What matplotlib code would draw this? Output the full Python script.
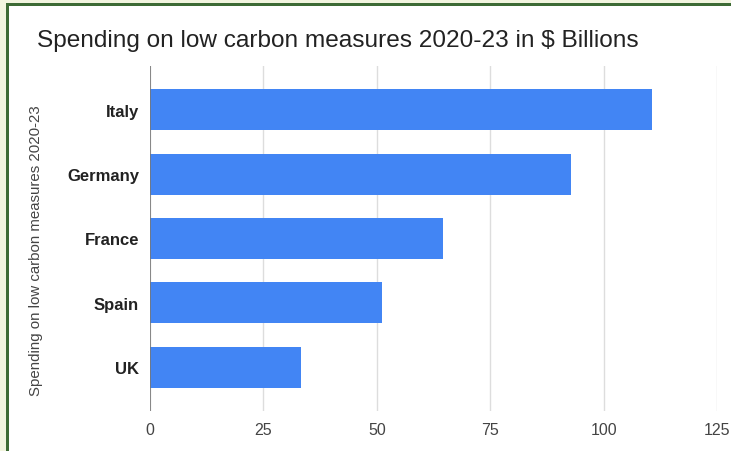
import matplotlib.pyplot as plt
from matplotlib.patches import Rectangle

countries = ["Italy", "Germany", "France", "Spain", "UK"]
spending = [110.7, 92.9, 64.5, 51.2, 33.2]
x_ticks = [0, 25, 50, 75, 100, 125]

plt.rcParams['font.family'] = ['Liberation Sans', 'DejaVu Sans']

fig = plt.figure(figsize=(7.31, 4.52), dpi=100)
fig.patch.set_facecolor("white")

# beige frame with green border on left and top
fig.patches.append(Rectangle((0, 0), 1, 1, transform=fig.transFigure,
                             facecolor="#f2f5df", edgecolor="none", zorder=-3))
fig.patches.append(Rectangle((6 / 731, 0), 1, 1 - 4 / 452, transform=fig.transFigure,
                             facecolor="#3d6b35", edgecolor="none", zorder=-2))
fig.patches.append(Rectangle((9 / 731, 0), 1, 1 - 7 / 452, transform=fig.transFigure,
                             facecolor="white", edgecolor="none", zorder=-1))

ax = fig.add_axes([150 / 731, 1 - 412 / 452, 567 / 731, 345 / 452])
ax.set_facecolor("none")

ypos = list(range(len(countries)))
ax.barh(ypos, spending, height=0.64, color="#4285f4", zorder=3)

ax.set_xlim(0, 125)
ax.set_ylim(4.68, -0.68)
ax.set_xticks(x_ticks)
ax.set_xticklabels([str(t) for t in x_ticks])
ax.set_yticks(ypos)
ax.set_yticklabels(countries, fontweight="bold", fontsize=12, color="#222222")

ax.grid(axis="x", color="#dddddd", linewidth=1, zorder=0)
ax.axvline(0, color="#777777", linewidth=1.2, zorder=4)
for s in ax.spines.values():
    s.set_visible(False)
ax.tick_params(axis="both", length=0)
ax.tick_params(axis="x", labelsize=11.5, labelcolor="#444444", pad=8)
ax.tick_params(axis="y", pad=8)

fig.text(37 / 731, 1 - 41 / 452, "Spending on low carbon measures 2020-23 in $ Billions",
         fontsize=17.6, color="#222222", va="center", ha="left")
fig.text(36 / 731, 1 - 251 / 452, "Spending on low carbon measures 2020-23",
         fontsize=10.8, color="#444444", rotation=90, va="center", ha="center")

fig.savefig("out.png", dpi=100)
